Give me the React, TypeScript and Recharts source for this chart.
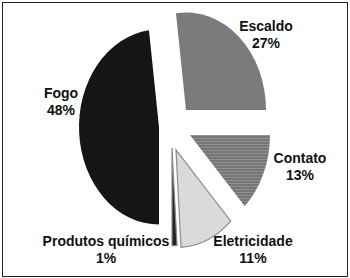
import { PieChart, Pie, Cell } from 'recharts';

// ordem anti-horária a partir das 3h (como no original)
const categorias = ['Escaldo', 'Fogo', 'Produtos químicos', 'Eletricidade', 'Contato'];
const percentuais = [27, 48, 1, 11, 13];

const data = categorias.map((name, i) => ({ name, value: percentuais[i] }));

const CORES: Record<string, { fill: string; stroke: string }> = {
  Escaldo: { fill: '#7b7b7b', stroke: 'none' },
  Fogo: { fill: '#151515', stroke: 'none' },
  'Produtos químicos': { fill: '#262626', stroke: '#8a8a8a' },
  Eletricidade: { fill: '#dadada', stroke: '#8c8c8c' },
  Contato: { fill: 'url(#listrado)', stroke: 'none' },
};

// deslocamento de cada fatia (pizza "explodida")
const DESLOC: Record<string, [number, number]> = {
  Escaldo: [16, -18],
  Fogo: [-11, -1],
  'Produtos químicos': [2, 20],
  Eletricidade: [6, 22],
  Contato: [20, 7],
};

// posição dos rótulos (centro x, linha de base da 1a linha)
const ROTULOS: Record<string, [number, number]> = {
  Escaldo: [266, 31],
  Fogo: [61, 98],
  'Produtos químicos': [106, 246],
  Eletricidade: [253, 246],
  Contato: [300, 163],
};

const ESCALA_Y = 1.22; // pizza achatada (elipse)

function FatiaEliptica(props: any) {
  const { cx, cy, outerRadius, startAngle, endAngle } = props;
  const nome = props.payload?.name ?? props.name;
  const [dx, dy] = DESLOC[nome] || [0, 0];
  const ax = cx + dx;
  const ay = cy + dy;
  const rx = outerRadius;
  const ry = outerRadius * ESCALA_Y;
  const rad = Math.PI / 180;
  const p = (a: number) => [ax + rx * Math.cos(a * rad), ay - ry * Math.sin(a * rad)];
  const [x1, y1] = p(startAngle);
  const [x2, y2] = p(endAngle);
  const grande = Math.abs(endAngle - startAngle) > 180 ? 1 : 0;
  const d = `M${ax},${ay} L${x1},${y1} A${rx},${ry} 0 ${grande} 0 ${x2},${y2} Z`;
  const cor = CORES[nome];
  return (
    <g>
      <defs>
        <pattern id="listrado" width="4" height="3" patternUnits="userSpaceOnUse">
          <rect width="4" height="3" fill="#767676" />
          <rect width="4" height="1" fill="#8f8f8f" />
        </pattern>
      </defs>
      <path d={d} fill={cor.fill} stroke={cor.stroke} strokeWidth={1.2} />
    </g>
  );
}

function Rotulo(props: any) {
  const nome = props.payload?.name ?? props.name;
  const [x, y] = ROTULOS[nome];
  return (
    <text
      x={x}
      y={y}
      textAnchor="middle"
      fontFamily="'Liberation Sans', Arial, sans-serif"
      fontWeight="bold"
      fontSize={14}
      fill="#111"
    >
      <tspan x={x} y={y}>{nome}</tspan>
      <tspan x={x} y={y + 17}>{props.value}%</tspan>
    </text>
  );
}

export default function App() {
  return (
    <div style={{ position: 'relative', width: 350, height: 278, background: '#fff' }}>
      <style>{'body{margin:0}'}</style>
      <div
        style={{
          position: 'absolute',
          left: 2,
          top: 2,
          width: 346,
          height: 275,
          boxSizing: 'border-box',
          border: '1.5px solid #222',
        }}
      />
      <PieChart width={350} height={278} margin={{ top: 0, right: 0, bottom: 0, left: 0 }}>
        <Pie
          data={data}
          dataKey="value"
          nameKey="name"
          cx={170}
          cy={128}
          outerRadius={80}
          startAngle={0}
          endAngle={360}
          isAnimationActive={false}
          shape={FatiaEliptica}
          activeShape={FatiaEliptica}
          label={Rotulo}
          labelLine={false}
        >
          {data.map((d) => (
            <Cell key={d.name} fill={CORES[d.name].fill} />
          ))}
        </Pie>
      </PieChart>
    </div>
  );
}
